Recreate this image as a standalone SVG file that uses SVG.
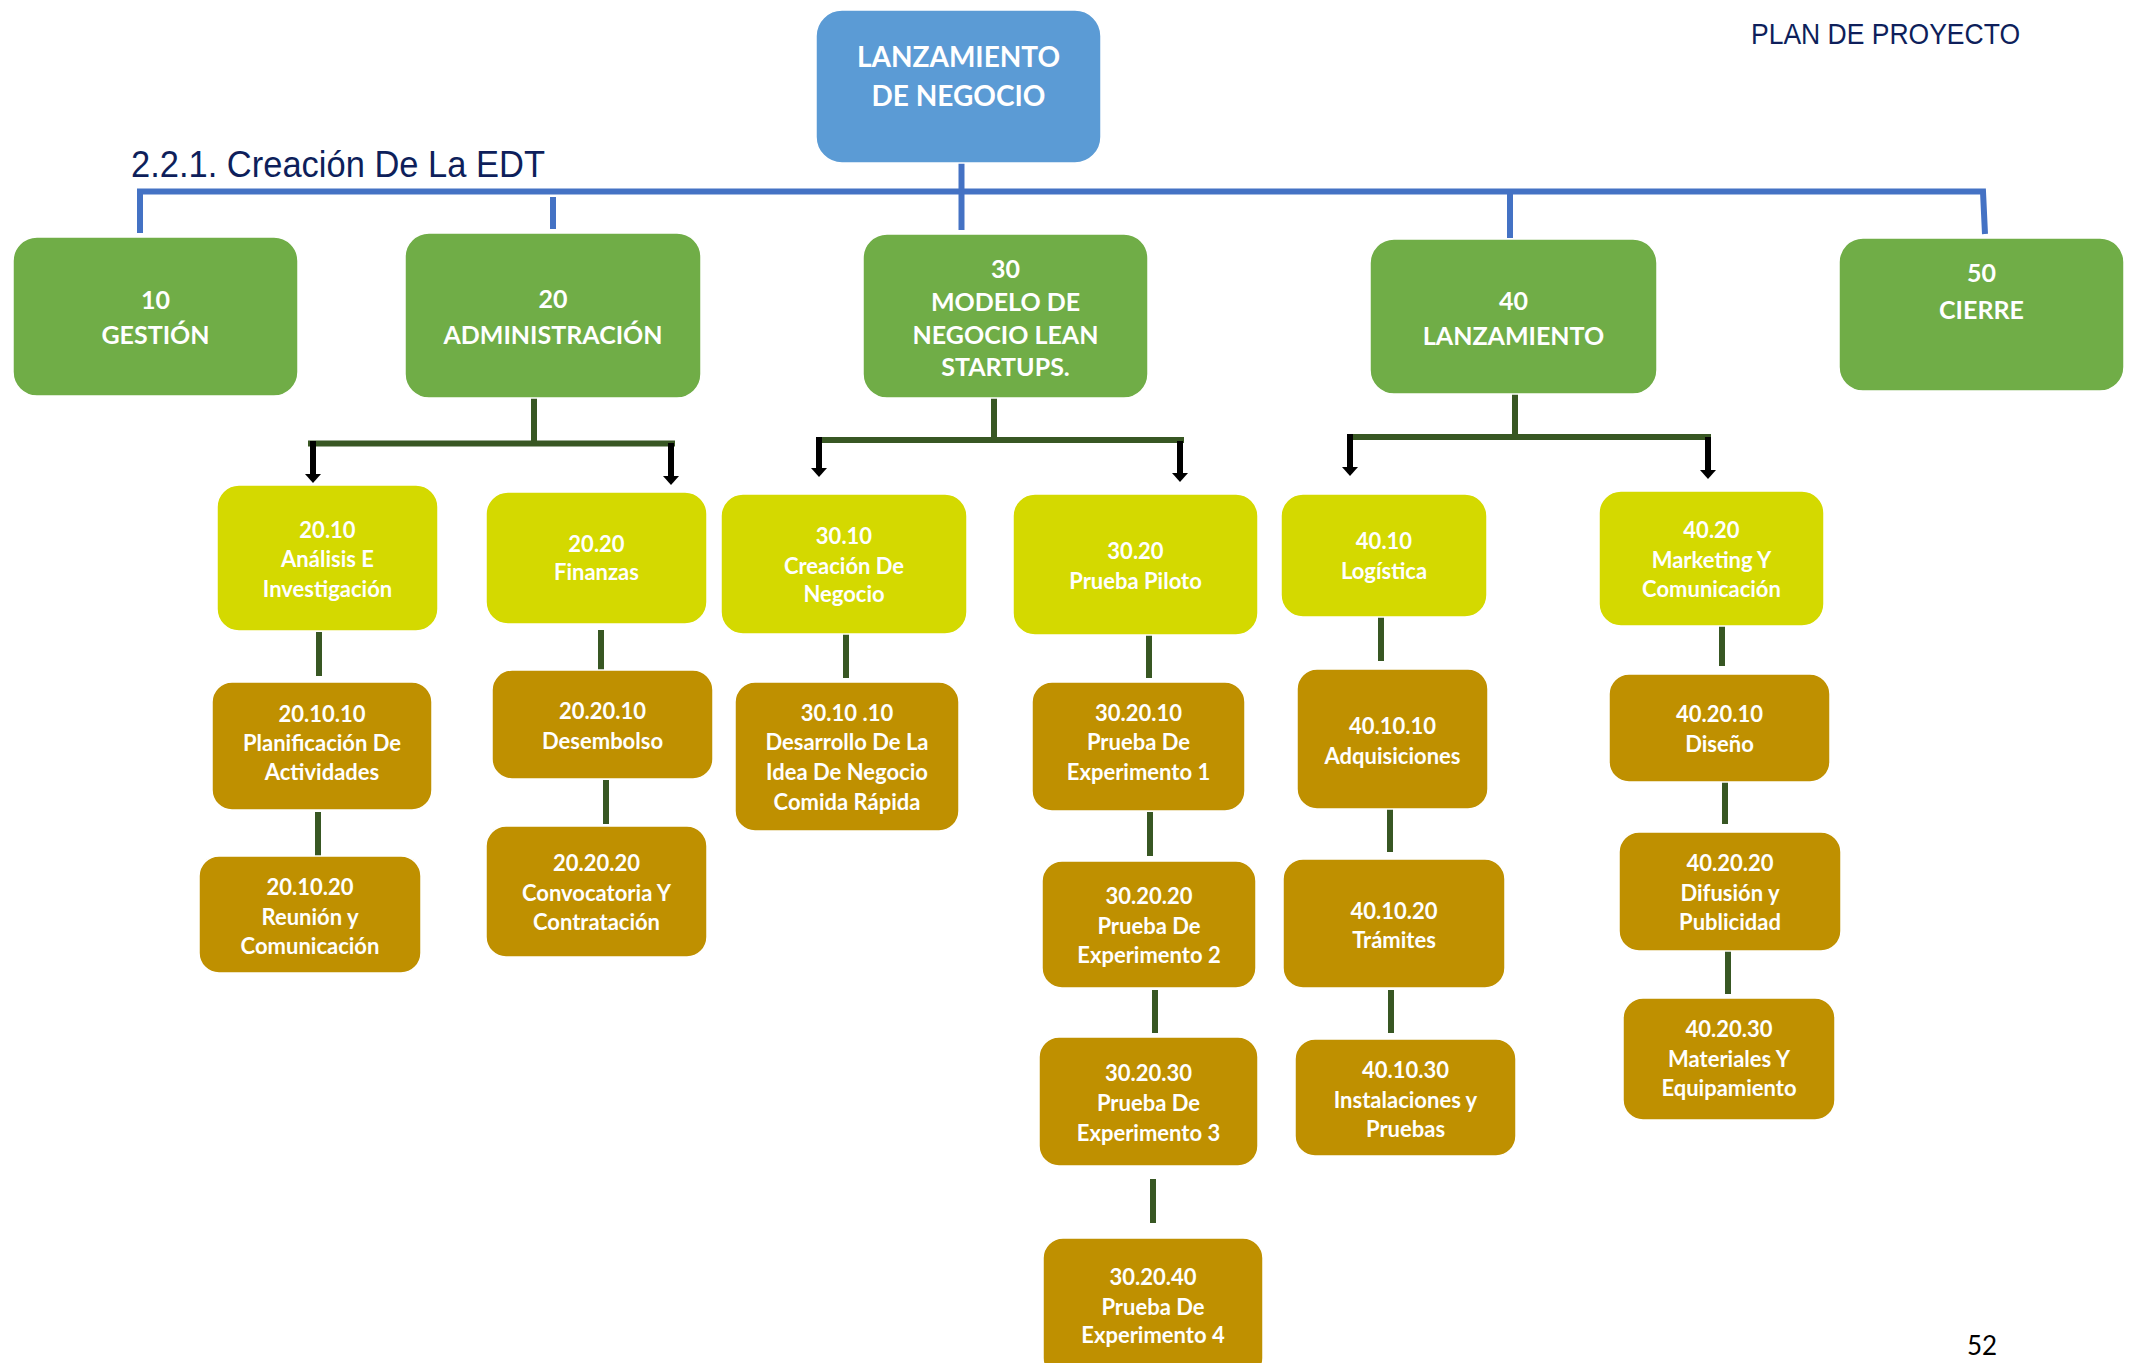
<svg xmlns="http://www.w3.org/2000/svg" width="2132" height="1363" viewBox="0 0 2132 1363">
<defs>
<style>
.root{fill:#5b9bd5}
.l1{fill:#70ad47}
.l2{fill:#d4d900}
.l3{fill:#bf9000}
.box{stroke:#ffffff;stroke-width:1.5}
text{font-family:Lato,"Open Sans","Liberation Sans",sans-serif;font-weight:bold;fill:#ffffff;text-anchor:middle}
.t0{font-size:28px}
.t1{font-size:25px}
.t2{font-size:22px}
.hdr{font-family:"Liberation Sans",Arial,sans-serif;font-weight:normal;fill:#0e1f5b;text-anchor:start}
.pg{font-family:Lato,"Liberation Sans",sans-serif;font-weight:normal;fill:#000000;font-size:26px;text-anchor:start}
.blue{stroke:#4472c4;stroke-width:6;fill:none}
.dg{stroke:#385723;stroke-width:6;fill:none}
.arr{stroke:#000000;stroke-width:6;fill:none;marker-end:url(#ah)}
</style>
<marker id="ah" viewBox="0 0 9 16" refX="0" refY="8" markerUnits="userSpaceOnUse" markerWidth="9" markerHeight="16" orient="auto">
<path d="M0,0 L9,8 L0,16 z" fill="#000000"/>
</marker>
</defs>
<rect width="2132" height="1363" fill="#ffffff"/>

<text class="hdr" x="131" y="177" font-size="37" textLength="414" lengthAdjust="spacingAndGlyphs">2.2.1. Creación De La EDT</text>
<text class="hdr" x="1751" y="44" font-size="30" textLength="269" lengthAdjust="spacingAndGlyphs">PLAN DE PROYECTO</text>
<text class="pg" x="1967" y="1355">52</text>

<g id="connectors">
<path class="blue" d="M140,233 V191.5 H1983 L1985,234"/>
<path class="blue" d="M553,197 V229"/>
<path class="blue" d="M961.5,156 V230"/>
<path class="blue" d="M1510,191.5 V238"/>

<path class="dg" d="M534,398 V443.5 M308,443.5 H675"/>
<path class="dg" d="M994,398 V440 M816,440 H1184"/>
<path class="dg" d="M1515,394 V437 M1347,437 H1711"/>

<path class="arr" d="M313,441 V474"/>
<path class="arr" d="M671,443 V476"/>
<path class="arr" d="M819,437 V468"/>
<path class="arr" d="M1180,441 V473"/>
<path class="arr" d="M1350,434 V467"/>
<path class="arr" d="M1708,437 V470"/>

<path class="dg" d="M319,632 V676"/>
<path class="dg" d="M318,812 V856"/>
<path class="dg" d="M601,630 V674"/>
<path class="dg" d="M606,780 V824"/>
<path class="dg" d="M846,634 V678"/>
<path class="dg" d="M1149,634 V678"/>
<path class="dg" d="M1150,812 V856"/>
<path class="dg" d="M1155,990 V1033"/>
<path class="dg" d="M1153,1179 V1223"/>
<path class="dg" d="M1381,617 V661"/>
<path class="dg" d="M1390,809 V852"/>
<path class="dg" d="M1391,990 V1033"/>
<path class="dg" d="M1722,623 V666"/>
<path class="dg" d="M1725,780 V824"/>
<path class="dg" d="M1728,951 V994"/>
</g>

<g id="n-root">
<rect class="box root" x="816" y="10" width="285" height="153" rx="26"/>
<text class="t0" x="958.5" y="67">LANZAMIENTO</text>
<text class="t0" x="958.5" y="106">DE NEGOCIO</text>
</g>

<g id="n-10">
<rect class="box l1" x="13" y="237" width="285" height="159" rx="24"/>
<text class="t1" x="155.5" y="309">10</text>
<text class="t1" x="155.5" y="344">GESTIÓN</text>
</g>
<g id="n-20">
<rect class="box l1" x="405" y="233" width="296" height="165" rx="24"/>
<text class="t1" x="553" y="308">20</text>
<text class="t1" x="553" y="344">ADMINISTRACIÓN</text>
</g>
<g id="n-30">
<rect class="box l1" x="863" y="234" width="285" height="164" rx="24"/>
<text class="t1" x="1005.5" y="278">30</text>
<text class="t1" x="1005.5" y="311">MODELO DE</text>
<text class="t1" x="1005.5" y="343.5">NEGOCIO LEAN</text>
<text class="t1" x="1005.5" y="376">STARTUPS.</text>
</g>
<g id="n-40">
<rect class="box l1" x="1370" y="239" width="287" height="155" rx="24"/>
<text class="t1" x="1513.5" y="309.5">40</text>
<text class="t1" x="1513.5" y="345">LANZAMIENTO</text>
</g>
<g id="n-50">
<rect class="box l1" x="1839" y="238" width="285" height="153" rx="24"/>
<text class="t1" x="1981.5" y="282">50</text>
<text class="t1" x="1981.5" y="319">CIERRE</text>
</g>

<g id="n-20-10">
<rect class="box l2" x="217" y="485" width="221" height="146" rx="22"/>
<text class="t2" x="327.5" y="538">20.10</text>
<text class="t2" x="327.5" y="567">Análisis E</text>
<text class="t2" x="327.5" y="597">Investigación</text>
</g>
<g id="n-20-20">
<rect class="box l2" x="486" y="492" width="221" height="132" rx="22"/>
<text class="t2" x="596.5" y="552">20.20</text>
<text class="t2" x="596.5" y="580">Finanzas</text>
</g>
<g id="n-30-10">
<rect class="box l2" x="721" y="494" width="246" height="140" rx="22"/>
<text class="t2" x="844" y="544">30.10</text>
<text class="t2" x="844" y="573.5">Creación De</text>
<text class="t2" x="844" y="602">Negocio</text>
</g>
<g id="n-30-20">
<rect class="box l2" x="1013" y="494" width="245" height="141" rx="22"/>
<text class="t2" x="1135.5" y="559">30.20</text>
<text class="t2" x="1135.5" y="589">Prueba Piloto</text>
</g>
<g id="n-40-10">
<rect class="box l2" x="1281" y="494" width="206" height="123" rx="22"/>
<text class="t2" x="1384" y="549">40.10</text>
<text class="t2" x="1384" y="579">Logística</text>
</g>
<g id="n-40-20">
<rect class="box l2" x="1599" y="491" width="225" height="135" rx="22"/>
<text class="t2" x="1711.5" y="538">40.20</text>
<text class="t2" x="1711.5" y="568">Marketing Y</text>
<text class="t2" x="1711.5" y="597">Comunicación</text>
</g>

<g id="n-20-10-10">
<rect class="box l3" x="212" y="682" width="220" height="128" rx="20"/>
<text class="t2" x="322" y="722">20.10.10</text>
<text class="t2" x="322" y="751">Planificación De</text>
<text class="t2" x="322" y="780">Actividades</text>
</g>
<g id="n-20-10-20">
<rect class="box l3" x="199" y="856" width="222" height="117" rx="20"/>
<text class="t2" x="310" y="894.5">20.10.20</text>
<text class="t2" x="310" y="924.5">Reunión y</text>
<text class="t2" x="310" y="954">Comunicación</text>
</g>
<g id="n-20-20-10">
<rect class="box l3" x="492" y="670" width="221" height="109" rx="20"/>
<text class="t2" x="602.5" y="719">20.20.10</text>
<text class="t2" x="602.5" y="749">Desembolso</text>
</g>
<g id="n-20-20-20">
<rect class="box l3" x="486" y="826" width="221" height="131" rx="20"/>
<text class="t2" x="596.5" y="871">20.20.20</text>
<text class="t2" x="596.5" y="901">Convocatoria Y</text>
<text class="t2" x="596.5" y="930">Contratación</text>
</g>
<g id="n-30-10-10">
<rect class="box l3" x="735" y="682" width="224" height="149" rx="20"/>
<text class="t2" x="847" y="720.5">30.10 .10</text>
<text class="t2" x="847" y="750">Desarrollo De La</text>
<text class="t2" x="847" y="780">Idea De Negocio</text>
<text class="t2" x="847" y="810">Comida Rápida</text>
</g>
<g id="n-30-20-10">
<rect class="box l3" x="1032" y="682" width="213" height="129" rx="20"/>
<text class="t2" x="1138.5" y="720.5">30.20.10</text>
<text class="t2" x="1138.5" y="750">Prueba De</text>
<text class="t2" x="1138.5" y="780">Experimento 1</text>
</g>
<g id="n-30-20-20">
<rect class="box l3" x="1042" y="861" width="214" height="127" rx="20"/>
<text class="t2" x="1149" y="904">30.20.20</text>
<text class="t2" x="1149" y="934">Prueba De</text>
<text class="t2" x="1149" y="962.5">Experimento 2</text>
</g>
<g id="n-30-20-30">
<rect class="box l3" x="1039" y="1037" width="219" height="129" rx="20"/>
<text class="t2" x="1148.5" y="1081">30.20.30</text>
<text class="t2" x="1148.5" y="1111">Prueba De</text>
<text class="t2" x="1148.5" y="1140.6">Experimento 3</text>
</g>
<g id="n-30-20-40">
<rect class="box l3" x="1043" y="1238" width="220" height="140" rx="20"/>
<text class="t2" x="1153" y="1285">30.20.40</text>
<text class="t2" x="1153" y="1315">Prueba De</text>
<text class="t2" x="1153" y="1343">Experimento 4</text>
</g>
<g id="n-40-10-10">
<rect class="box l3" x="1297" y="669" width="191" height="140" rx="20"/>
<text class="t2" x="1392.5" y="734">40.10.10</text>
<text class="t2" x="1392.5" y="764">Adquisiciones</text>
</g>
<g id="n-40-10-20">
<rect class="box l3" x="1283" y="859" width="222" height="129" rx="20"/>
<text class="t2" x="1394" y="919">40.10.20</text>
<text class="t2" x="1394" y="947.6">Trámites</text>
</g>
<g id="n-40-10-30">
<rect class="box l3" x="1295" y="1039" width="221" height="117" rx="20"/>
<text class="t2" x="1405.5" y="1078">40.10.30</text>
<text class="t2" x="1405.5" y="1108">Instalaciones y</text>
<text class="t2" x="1405.5" y="1136.6">Pruebas</text>
</g>
<g id="n-40-20-10">
<rect class="box l3" x="1609" y="674" width="221" height="108" rx="20"/>
<text class="t2" x="1719.5" y="722">40.20.10</text>
<text class="t2" x="1719.5" y="752">Diseño</text>
</g>
<g id="n-40-20-20">
<rect class="box l3" x="1619" y="832" width="222" height="119" rx="20"/>
<text class="t2" x="1730" y="871">40.20.20</text>
<text class="t2" x="1730" y="901">Difusión y</text>
<text class="t2" x="1730" y="930">Publicidad</text>
</g>
<g id="n-40-20-30">
<rect class="box l3" x="1623" y="998" width="212" height="122" rx="20"/>
<text class="t2" x="1729" y="1037">40.20.30</text>
<text class="t2" x="1729" y="1067">Materiales Y</text>
<text class="t2" x="1729" y="1096">Equipamiento</text>
</g>
</svg>
